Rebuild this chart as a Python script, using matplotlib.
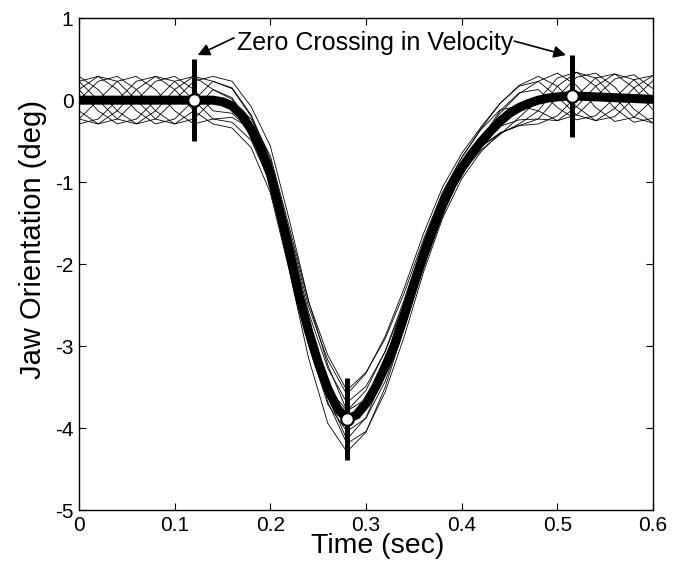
import numpy as np
import matplotlib
matplotlib.use("Agg")
import matplotlib.pyplot as plt

plt.rcParams['font.family'] = ['Liberation Sans', 'DejaVu Sans']
plt.rcParams['axes.unicode_minus'] = False

# mean jaw orientation, sampled every 10 ms (0 .. 0.6 s)
t_mean = np.arange(61) * 0.01
jaw_mean = [0, 0, 0, 0, 0, 0, 0, 0, 0, 0, 0, 0, 0, 0, 0,
            -0.02, -0.07, -0.18, -0.36, -0.6, -0.9, -1.36, -1.85, -2.38, -2.82,
            -3.2, -3.52, -3.76, -3.89, -3.84, -3.7, -3.5, -3.25, -2.98, -2.62,
            -2.25, -1.9, -1.58, -1.28, -1.03, -0.83, -0.66, -0.51, -0.38, -0.26,
            -0.16, -0.09, -0.04, 0.0, 0.025, 0.04, 0.05, 0.05, 0.045, 0.04,
            0.035, 0.03, 0.025, 0.02, 0.015, 0.01]

# single trials, as deviation from the mean, sampled every 20 ms
t_trial = np.arange(31) * 0.02
trial_dev = [
    [0, 0.23, 0.29, 0.13, -0.13, -0.29, -0.23, 0, 0.05, 0.13, 0.22, 0.29, 0.36, 0.41, 0.35,
     0.38, 0.34, 0.27, 0.20, 0.16, 0.13, 0.15, 0.14, 0.02, -0.13, -0.29, -0.23, 0, 0.23, 0.29, 0.13],
    [0.23, 0.29, 0.13, -0.13, -0.29, -0.23, 0, 0.23, 0.22, 0.18, 0.18, 0.19, 0.23, 0.25, 0.20,
     0.21, 0.18, 0.14, 0.10, 0.08, 0.04, -0.05, -0.14, -0.22, -0.23, 0, 0.23, 0.29, 0.13, -0.13, -0.29],
    [0.29, 0.13, -0.13, -0.29, -0.23, 0, 0.23, 0.29, 0.30, 0.28, 0.34, 0.38, 0.37, 0.29, 0.10,
     0.05, 0.0, -0.05, -0.07, -0.06, -0.04, 0.02, 0.10, 0.17, 0.23, 0.29, 0.13, -0.13, -0.29, -0.23, 0],
    [0.13, -0.13, -0.29, -0.23, 0, 0.23, 0.29, 0.13, 0.08, -0.01, -0.09, -0.14, -0.17, -0.19, -0.15,
     -0.18, -0.18, -0.17, -0.14, -0.11, -0.06, 0.03, 0.13, 0.18, 0.13, -0.13, -0.29, -0.23, 0, 0.23, 0.29],
    [-0.13, -0.29, -0.23, 0, 0.23, 0.29, 0.13, -0.13, -0.09, -0.01, 0.05, 0.10, -0.01, -0.16, -0.30,
     -0.34, -0.31, -0.26, -0.20, -0.16, -0.13, -0.12, -0.14, -0.22, -0.29, -0.23, 0, 0.23, 0.29, 0.13, -0.13],
    [-0.29, -0.23, 0, 0.23, 0.29, 0.13, -0.13, -0.29, -0.27, -0.22, -0.23, -0.24, -0.33, -0.42, -0.40,
     -0.35, -0.25, -0.15, -0.07, -0.05, -0.06, -0.10, -0.16, -0.12, 0, 0.23, 0.29, 0.13, -0.13, -0.29, -0.23],
    [-0.23, 0, 0.23, 0.29, 0.13, -0.13, -0.29, -0.23, -0.14, 0.01, 0.15, 0.24, 0.30, 0.35, 0.30,
     0.37, 0.37, 0.33, 0.27, 0.22, 0.18, 0.18, 0.22, 0.27, 0.29, 0.13, -0.13, -0.29, -0.23, 0, 0.23],
    [0.13, 0.29, 0.23, 0, -0.23, -0.29, -0.13, 0.13, 0.10, 0.05, 0.02, 0.0, -0.02, -0.04, -0.05,
     0.02, 0.08, 0.13, 0.14, 0.11, 0.08, 0.02, -0.06, -0.15, -0.23, -0.29, -0.13, 0.13, 0.29, 0.23, 0],
    [0.23, 0, -0.23, -0.29, -0.13, 0.13, 0.29, 0.23, 0.21, 0.16, 0.15, 0.14, 0.05, -0.09, -0.25,
     -0.17, -0.07, 0.02, 0.07, 0.05, 0.0, -0.06, -0.15, -0.20, -0.13, 0.13, 0.29, 0.23, 0, -0.23, -0.29],
    [-0.23, -0.29, -0.13, 0.13, 0.29, 0.23, 0, -0.23, -0.20, -0.13, -0.11, -0.10, -0.05, 0.02, 0.10,
     0.16, 0.19, 0.19, 0.17, 0.14, 0.13, 0.16, 0.22, 0.26, 0.23, 0, -0.23, -0.29, -0.13, 0.13, 0.29],
]

# velocity zero crossings on the mean trajectory
cross_t = [0.12, 0.28, 0.515]
cross_y = [0.0, -3.89, 0.05]
cross_err = [0.5, 0.5, 0.5]

jaw_mean = np.array(jaw_mean)

fig = plt.figure(figsize=(6.81, 5.68), dpi=100)
ax = fig.add_axes([0.116, 0.102, 0.843, 0.866])

for dev in trial_dev:
    ax.plot(t_trial, jaw_mean[::2] + np.array(dev), color='k', lw=0.6)

ax.plot(t_mean, jaw_mean, color='k', lw=6.5, solid_capstyle='butt')
ax.errorbar(cross_t, cross_y, yerr=cross_err, fmt='none', ecolor='k', elinewidth=3.6)
ax.plot(cross_t, cross_y, 'o', ms=9, mfc='white', mec='k', mew=1.5)

ax.text(0.309, 0.70, 'Zero Crossing in Velocity', fontsize=18, ha='center', va='center')
arrow = dict(arrowstyle='-|>', color='k', lw=1.2, mutation_scale=18, shrinkA=0, shrinkB=0)
ax.annotate('', xy=(0.124, 0.55), xytext=(0.162, 0.76), arrowprops=arrow)
ax.annotate('', xy=(0.509, 0.55), xytext=(0.455, 0.72), arrowprops=arrow)

ax.set_xlim(0, 0.6)
ax.set_ylim(-5, 1)
ax.set_xticks([0, 0.1, 0.2, 0.3, 0.4, 0.5, 0.6])
ax.set_xticklabels(['0', '0.1', '0.2', '0.3', '0.4', '0.5', '0.6'])
ax.set_yticks([-5, -4, -3, -2, -1, 0, 1])
ax.tick_params(direction='in', top=True, right=True, length=5, width=0.8, labelsize=15, pad=4)
for s in ax.spines.values():
    s.set_linewidth(1.0)
ax.set_xlabel('Time (sec)', fontsize=20.5)
ax.set_ylabel('Jaw Orientation (deg)', fontsize=21)
ax.xaxis.set_label_coords(0.521, -0.046)
ax.yaxis.set_label_coords(-0.056, 0.55)

plt.savefig('out.png', dpi=100)
